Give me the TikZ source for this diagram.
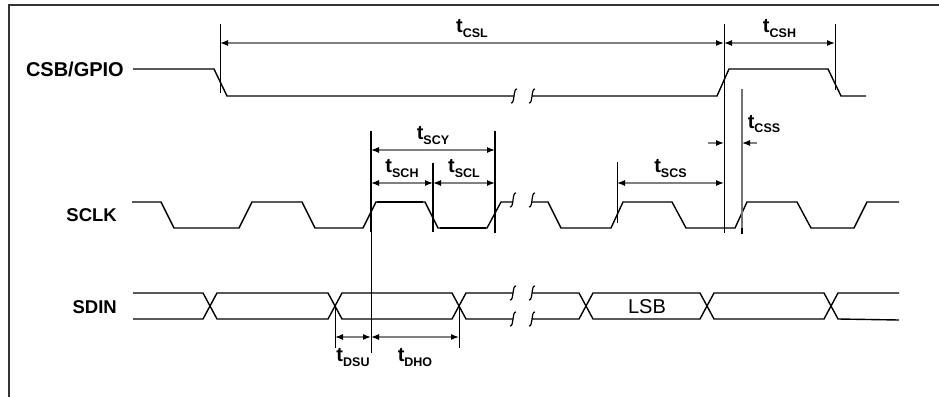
\documentclass[tikz,border=0pt]{standalone}
\usepackage{fontspec}
\setmainfont{Liberation Sans}
\usetikzlibrary{arrows.meta,positioning,calc}

\tikzset{
  wave/.style={line width=1.4pt, line join=miter},
  ext/.style={line width=1pt},
  dim/.style={draw=black!50, line width=1.2pt,
    {Latex[color=black,length=8pt,width=6pt]}-{Latex[color=black,length=8pt,width=6pt]}},
  dimone/.style={draw=black!50, line width=1.2pt,
    -{Latex[color=black,length=8pt,width=6pt]}},
  sig/.style={font=\fontsize{18.5}{20}\selectfont\bfseries, anchor=east, inner sep=0pt},
  tl/.style={inner sep=0pt},
}
\newcommand{\tsub}[1]{{\fontsize{20}{20}\selectfont\bfseries t}\raisebox{-4.5pt}{\fontsize{12.5}{13}\selectfont\bfseries #1}}
\newcommand{\brk}[2]{\draw[line width=1.2pt] (#1-3,#2+7) .. controls (#1+1,#2+8) and (#1-1,#2-8) .. (#1+3,#2-7);}

\begin{document}
\begin{tikzpicture}[x=1pt,y=-1pt]
\useasboundingbox (0,0) rectangle (939,396);
% frame
\draw[line width=1.5pt, black!80] (9,398) -- (9,5) -- (941,5);

% signal names
\node[sig, font=\fontsize{20}{22}\selectfont\bfseries] (csb) at (124,69) {CSB/GPIO};
\node[sig] (sclk) at (117,215) {SCLK};
\node[sig] (sdin) at (117,307) {SDIN};

% CSB/GPIO
\draw[wave] (133,69) -- (214,69) -- (227,96) -- (514,96);
\draw[wave] (532,96) -- (717,96) -- (729,69) -- (828,69) -- (841,96) -- (866,96);
\brk{514}{96} \brk{532}{96}

% SCLK
\draw[wave] (132,202) -- (161,202) -- (174,228) -- (239,228) -- (252,202) -- (302,202)
  -- (315,228) -- (363,228) -- (376,202) -- (425,202) -- (438,228) -- (487,228)
  -- (501,202) -- (513,202);
\draw[line width=2.6pt] (377,202) -- (423,202) (440,228) -- (486,228);
\draw[wave] (532,202) -- (548,202) -- (561,228) -- (611,228) -- (623,202) -- (672,202)
  -- (686,228) -- (735,228) -- (747,202) -- (797,202) -- (811,228) -- (854,228)
  -- (867,202) -- (899,202);
\brk{513}{200} \brk{532}{200}

% SDIN
\draw[wave] (133,293) -- (203,293) -- (210,306) -- (203,319) -- (133,319);
\foreach \a/\b in {210/335,335/459,586/707,707/831}
  \draw[wave] (\a,306) -- (\a+7,293) -- (\b-7,293) -- (\b,306) -- (\b-7,319) -- (\a+7,319) -- cycle;
\draw[wave] (513,293) -- (466,293) -- (459,306) -- (466,319) -- (513,319);
\draw[wave] (532,293) -- (579,293) -- (586,306) -- (579,319) -- (532,319);
\draw[wave] (899,293) -- (838,293) -- (831,306) -- (838,319) -- (899,320);
\brk{513}{293} \brk{532}{293} \brk{513}{319} \brk{532}{319}
\node[font=\fontsize{20}{20}\selectfont] (lsb) at (647,307) {LSB};

% reference lines
\coordinate (csfall) at (220,24);
\coordinate (csrise) at (724,24);
\coordinate (csend) at (835,24);
\coordinate (clkA) at (371,131);
\coordinate (clkB) at (495,131);
\coordinate (clkM) at (433,163);
\coordinate (clkS) at (617,162);
\coordinate (clkC) at (742,89);
\coordinate (dsuA) at (335,306);
\coordinate (dhoB) at (459,306);
\draw[ext] (csfall) -- ++(0,69);
\draw[ext] (csrise) -- ++(0,209);
\draw[ext] (csend) -- ++(0,66);
\draw[line width=2.2pt] (clkA) -- ++(0,101);
\draw[ext] (clkA) -- ++(0,222);
\draw[line width=2.2pt] (clkB) -- ++(0,102);
\draw[line width=1.5pt] (clkM) -- ++(0,69);
\draw[ext] (clkS) -- ++(0,61);
\draw[line width=1.5pt, black!55] (clkC) -- ++(0,139);
\draw[line width=1.5pt] (742,228) -- (742,234);
\draw[ext] (dsuA) -- ++(0,42);
\draw[ext] (dhoB) -- ++(0,42);

% timing arrows
\draw[dim] (csfall |- 0,43) -- node[tl, above=5pt] (lcsl) {\tsub{CSL}} (csrise |- 0,43);
\draw[dim] (csrise |- 0,43) -- node[tl, above=5pt] (lcsh) {\tsub{CSH}} (csend |- 0,43);
\draw[dim] (clkA |- 0,150) -- node[tl, above=5pt] (lscy) {\tsub{SCY}} (clkB |- 0,150);
\draw[dim] (clkA |- 0,183) -- node[tl, above=5pt] (lsch) {\tsub{SCH}} (clkM |- 0,183);
\draw[dim] (clkM |- 0,183) -- node[tl, above=5pt] (lscl) {\tsub{SCL}} (clkB |- 0,183);
\draw[dim] (clkS |- 0,183) -- node[tl, above=5pt] (lscs) {\tsub{SCS}} (csrise |- 0,183);
\coordinate (cssL) at (708,143);
\coordinate (cssR) at (757,143);
\draw[dimone] (cssL) -- (csrise |- cssL);
\draw[dimone] (cssR) -- (clkC |- cssR);
\node[tl] (lcss) at (764,124) {\tsub{CSS}};
\draw[dim] (dsuA |- 0,337) -- node[tl, below=11pt] (ldsu) {\tsub{DSU}} (clkA |- 0,337);
\draw[dim] (clkA |- 0,337) -- node[tl, below=11pt] (ldho) {\tsub{DHO}} (dhoB |- 0,337);
\end{tikzpicture}
\end{document}
